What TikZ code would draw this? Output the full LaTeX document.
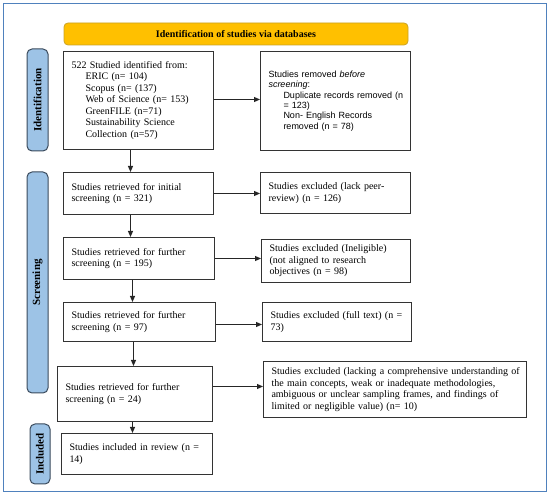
\documentclass[tikz,border=0pt]{standalone}
\usepackage{fontspec}
\setmainfont{Liberation Serif}
\newfontfamily\arialf{Liberation Sans}
\usetikzlibrary{arrows.meta}
\definecolor{banner}{HTML}{FFC000}
\definecolor{bannerline}{HTML}{C9A227}
\definecolor{sidefill}{HTML}{9DC3E6}
\definecolor{sideline}{HTML}{3A4A5C}
\definecolor{frame}{HTML}{4F81BD}
\definecolor{boxline}{HTML}{333333}
\newcommand{\lne}[1]{\mbox{#1}}
\newcommand{\ilne}[2]{\mbox{\hspace*{#1}#2}}
\begin{document}
\begin{tikzpicture}[x=1pt,y=-1pt,
  box/.style={draw=boxline, line width=1pt, anchor=north west, inner xsep=8pt, inner ysep=0pt,
    align=left, font=\fontsize{10}{11.5}\selectfont},
  sbox/.style={box, font=\arialf\fontsize{9}{10.4}\selectfont},
  side/.style={draw=sideline, fill=sidefill, line width=1pt, rounded corners=5pt, rotate=90,
    inner sep=0pt, font=\bfseries\fontsize{11}{12}\selectfont},
  arr/.style={draw=black!85, line width=1pt, -{Triangle[length=6pt,width=5pt]}}]
\useasboundingbox (0,0) rectangle (550,497);
\draw[frame, line width=1pt] (3,4) rectangle (546,492);
\node[draw=bannerline, fill=banner, line width=0.8pt, rounded corners=4pt, minimum width=344pt,
  minimum height=22pt, inner sep=0pt, font=\bfseries\fontsize{10}{12}\selectfont] (ban) at (236,34)
  {Identification of studies via databases};
\node[side, minimum width=102pt, minimum height=21pt] (sid) at (37.5,100) {Identification};
\node[side, minimum width=221pt, minimum height=21pt] (sscr) at (37.5,282.5) {Screening};
\node[side, minimum width=60pt, minimum height=20pt] (sinc) at (40,454) {Included};

\node[box, minimum width=150pt, minimum height=98pt, text width=134pt] (b1) at (63,51)
 {\lne{522 Studied identified from:}\\
  \ilne{14pt}{ERIC (n= 104)}\\
  \ilne{14pt}{Scopus (n= (137)}\\
  \ilne{14pt}{Web of Science (n= 153)}\\
  \ilne{14pt}{GreenFILE (n=71)}\\
  \ilne{14pt}{Sustainability Science}\\
  \ilne{14pt}{Collection (n=57)}};
\node[sbox, minimum width=150pt, minimum height=99pt, text width=134pt] (r1) at (260,51)
 {\lne{Studies removed \textit{before}}\\
  \lne{\textit{screening}:}\\
  \ilne{15pt}{Duplicate records removed (n}\\
  \ilne{15pt}{= 123)}\\
  \ilne{15pt}{Non- English Records}\\
  \ilne{15pt}{removed (n = 78)}};

\node[box, minimum width=150pt, minimum height=42pt, text width=134pt] (b2) at (63,172)
 {\lne{Studies retrieved for initial}\\ \lne{screening (n = 321)}};
\node[box, minimum width=150pt, minimum height=41pt, text width=134pt] (r2) at (260,172)
 {\lne{Studies excluded (lack peer-}\\ \lne{review) (n = 126)}};

\node[box, minimum width=151pt, minimum height=42pt, text width=135pt] (b3) at (63,237)
 {\lne{Studies retrieved for further}\\ \lne{screening (n = 195)}};
\node[box, minimum width=149pt, minimum height=43pt, text width=133pt] (r3) at (261,239)
 {\lne{Studies excluded (Ineligible)}\\ \lne{(not aligned to research}\\ \lne{objectives (n = 98)}};

\node[box, minimum width=152pt, minimum height=39pt, text width=136pt] (b4) at (63,302)
 {\lne{Studies retrieved for further}\\ \lne{screening (n = 97)}};
\node[box, minimum width=149pt, minimum height=39pt, text width=133pt] (r4) at (262,302)
 {\lne{Studies excluded (full text) (n =}\\ \lne{73)}};

\node[box, minimum width=155pt, minimum height=55pt, text width=139pt] (b5) at (57,366)
 {\lne{Studies retrieved for further}\\ \lne{screening (n = 24)}};
\node[box, minimum width=263pt, minimum height=56pt, text width=247pt] (r5) at (263,361)
 {\lne{Studies excluded (lacking a comprehensive understanding of}\\
  \lne{the main concepts, weak or inadequate methodologies,}\\
  \lne{ambiguous or unclear sampling frames, and findings of}\\
  \lne{limited or negligible value) (n= 10)}};

\node[box, minimum width=151pt, minimum height=41pt, text width=135pt] (b6) at (61,433)
 {\lne{Studies included in review (n =}\\ \lne{14)}};

\draw[arr] ([yshift=1pt]b1.east) -- ([yshift=1pt]b1.east -| r1.west);
\draw[arr] (b2.east) -- (b2.east -| r2.west);
\draw[arr] (b3.east) -- (b3.east -| r3.west);
\draw[arr] ([yshift=-2.5pt]b4.east) -- ([yshift=-2.5pt]b4.east -| r4.west);
\draw[arr] ([yshift=7.5pt]b5.east) -- ([yshift=7.5pt]b5.east -| r5.west);

\draw[arr] ([xshift=-8pt]b1.south) -- ([xshift=-8pt]b1.south |- b2.north);
\draw[arr] ([xshift=-8pt]b2.south) -- ([xshift=-8pt]b2.south |- b3.north);
\draw[arr] ([xshift=-6.5pt]b3.south) -- ([xshift=-6.5pt]b3.south |- b4.north);
\draw[arr] ([xshift=-6pt]b4.south) -- ([xshift=-6pt]b4.south |- b5.north);
\draw[arr] ([xshift=-2.5pt]b5.south) -- ([xshift=-2.5pt]b5.south |- b6.north);
\end{tikzpicture}
\end{document}
